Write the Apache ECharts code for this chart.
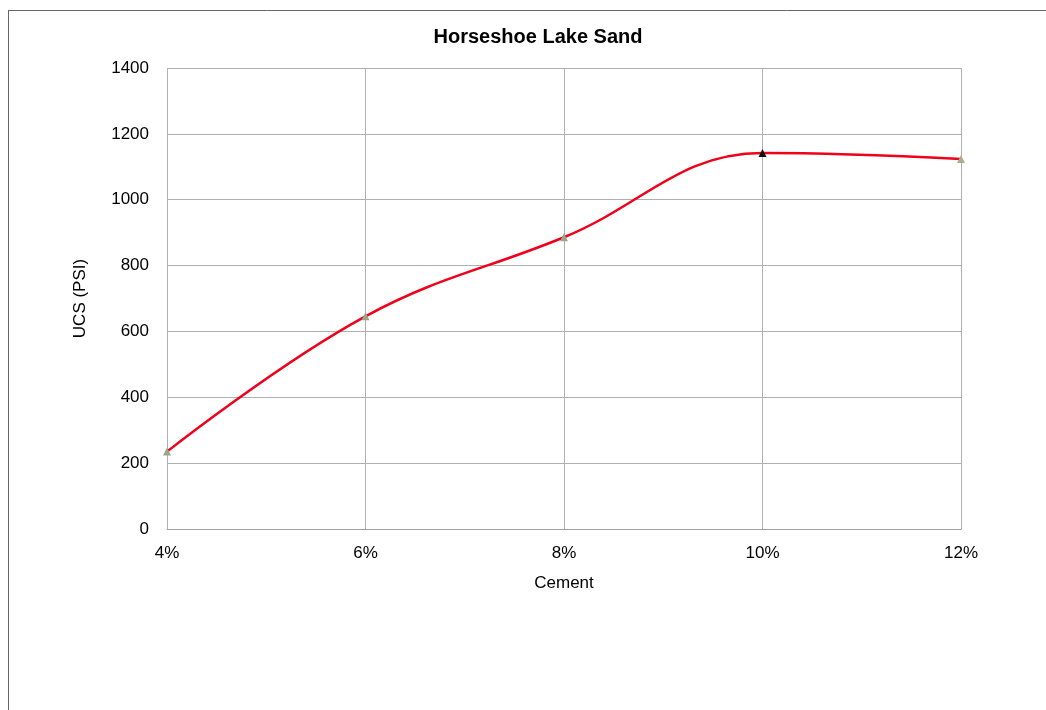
<!DOCTYPE html>
<html><head><meta charset="utf-8">
<script src="https://cdn.jsdelivr.net/npm/echarts@6/dist/echarts.min.js"></script>
<style>html,body{margin:0;padding:0;background:#fff}#c{width:1046px;height:710px}</style>
</head><body><div id="c"></div>
<script>
const categories = ['4%', '6%', '8%', '10%', '12%'];
const ucsValues = [235, 646, 886, 1142, 1124];
const yTicks = [0, 200, 400, 600, 800, 1000, 1200, 1400];
const markerColors = ['#9aa58a', '#9aa58a', '#9aa58a', '#111111', '#b0ac90'];

const chart = echarts.init(document.getElementById('c'));
chart.setOption({
  animation: false,
  backgroundColor: '#fff',
  graphic: [
    {type: 'line', shape: {x1: 8.5, y1: 10, x2: 8.5, y2: 710}, style: {stroke: '#666', lineWidth: 1}},
    {type: 'line', shape: {x1: 8, y1: 10.5, x2: 1046, y2: 10.5}, style: {stroke: '#666', lineWidth: 1}}
  ],
  title: {
    text: 'Horseshoe Lake Sand', left: 533, top: 22, textAlign: 'center',
    textStyle: {fontFamily: 'Liberation Sans, Arial', fontSize: 20, fontWeight: 'bold', color: '#000'}
  },
  grid: {left: 167, right: 85, top: 68, bottom: 181},
  xAxis: {
    type: 'category', data: categories, boundaryGap: false,
    name: 'Cement', nameLocation: 'middle', nameGap: 46,
    nameTextStyle: {fontFamily: 'Liberation Sans, Arial', fontSize: 17, color: '#000'},
    axisLine: {lineStyle: {color: '#a0a0a0'}},
    axisTick: {show: false},
    axisLabel: {fontFamily: 'Liberation Sans, Arial', fontSize: 17, color: '#000', margin: 16},
    splitLine: {show: true, lineStyle: {color: '#b0b0b0', width: 1}}
  },
  yAxis: {
    type: 'value', min: 0, max: 1400, interval: 200,
    name: 'UCS (PSI)', nameLocation: 'middle', nameGap: 78, nameRotate: 90,
    nameTextStyle: {fontFamily: 'Liberation Sans, Arial', fontSize: 17, color: '#000'},
    axisLine: {show: false},
    axisTick: {show: false},
    axisLabel: {fontFamily: 'Liberation Sans, Arial', fontSize: 17, color: '#000', margin: 18,
      formatter: v => yTicks.includes(v) ? String(v) : ''},
    splitLine: {show: true, lineStyle: {color: '#b0b0b0', width: 1}}
  },
  series: [{
    type: 'line', data: ucsValues.map((v, i) => ({value: v, itemStyle: {color: markerColors[i]}})),
    smooth: 0.4, symbol: 'triangle', symbolSize: 8,
    lineStyle: {color: '#f0001a', width: 2.5},
    z: 3
  }]
});
</script></body></html>
